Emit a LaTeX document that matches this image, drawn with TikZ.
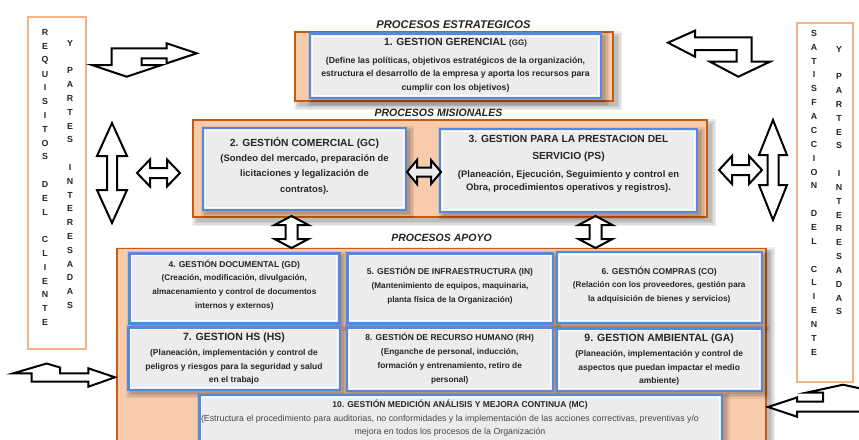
\documentclass[tikz,border=0pt]{standalone}
\usepackage{fontspec}
\setmainfont{Liberation Sans}
\usetikzlibrary{calc}

\definecolor{peach}{RGB}{248,203,173}
\definecolor{rust}{RGB}{197,90,17}
\definecolor{salmon}{RGB}{244,177,131}
\definecolor{procblue}{RGB}{84,138,222}
\definecolor{panel}{RGB}{236,236,236}
\definecolor{ink}{RGB}{38,38,38}
\definecolor{softink}{RGB}{70,70,70}

% soft drop shadow: x1 y1 x2 y2 offset
\newcommand\softshadow[5]{%
  \foreach \d in {5,3.5,2,0.5}{%
    \fill[black,opacity=0.07] ({#1+#5-\d},{#2+#5-\d}) rectangle ({#3+#5+\d},{#4+#5+\d});
  }}

% bevelled process panel: name x1 y1 x2 y2
\newcommand\procbox[5]{%
  \softshadow{#2}{#3}{#4}{#5}{3}
  \node[procframe, minimum width={#4-#2}, minimum height={#5-#3}] (#1) at ({(#2+#4)/2},{(#3+#5)/2}) {};
  \draw[white, line width=1pt] ([xshift=2.5pt,yshift=-2.5pt]#1.north west) rectangle ([xshift=-2.5pt,yshift=2.5pt]#1.south east);
}

% group frame: name x1 y1 x2 y2
\newcommand\groupbox[5]{%
  \softshadow{#2}{#3}{#4}{#5}{4}
  \node[groupframe, minimum width={#4-#2}, minimum height={#5-#3}] (#1) at ({(#2+#4)/2},{(#3+#5)/2}) {};
}

% horizontal double block arrow: cx cy length height shaft headlength fill
\newcommand\hdarrow[7]{%
  \draw[blockarrow, fill=#7]
    ({#1-#3/2},#2) -- ({#1-#3/2+#6},{#2-#4/2}) -- ({#1-#3/2+#6},{#2-#5/2})
    -- ({#1+#3/2-#6},{#2-#5/2}) -- ({#1+#3/2-#6},{#2-#4/2}) -- ({#1+#3/2},#2)
    -- ({#1+#3/2-#6},{#2+#4/2}) -- ({#1+#3/2-#6},{#2+#5/2}) -- ({#1-#3/2+#6},{#2+#5/2})
    -- ({#1-#3/2+#6},{#2+#4/2}) -- cycle;
}
% vertical double block arrow: cx cy length width shaft headlength
\newcommand\vdarrow[6]{%
  \draw[blockarrow]
    (#1,{#2-#3/2}) -- ({#1+#4/2},{#2-#3/2+#6}) -- ({#1+#5/2},{#2-#3/2+#6})
    -- ({#1+#5/2},{#2+#3/2-#6}) -- ({#1+#4/2},{#2+#3/2-#6}) -- (#1,{#2+#3/2})
    -- ({#1-#4/2},{#2+#3/2-#6}) -- ({#1-#5/2},{#2+#3/2-#6}) -- ({#1-#5/2},{#2-#3/2+#6})
    -- ({#1-#4/2},{#2-#3/2+#6}) -- cycle;
}

\begin{document}
\begin{tikzpicture}[x=1pt,y=-1pt,
  procframe/.style={draw=procblue, line width=2.4pt, fill=panel, inner sep=0pt, outer sep=0pt},
  groupframe/.style={draw=rust, line width=1.6pt, fill=peach, inner sep=0pt, outer sep=0pt},
  sidebox/.style={draw=salmon, line width=2.4pt, fill=white, inner sep=0pt, outer sep=0pt},
  blockarrow/.style={draw=black, line width=2pt, line join=miter, fill=white},
  vletter/.style={font=\fontsize{8.8}{9}\selectfont\bfseries, text=ink, inner sep=0pt},
  section/.style={font=\fontsize{10.5}{12}\selectfont\bfseries\itshape, text=ink, inner sep=0pt},
  bigtitle/.style={font=\fontsize{10.3}{17}\selectfont\bfseries, text=ink, inner sep=0pt, align=center},
  smalltitle/.style={font=\fontsize{8.5}{10}\selectfont\bfseries, text=ink, inner sep=0pt},
  body/.style={text=ink, inner sep=0pt, align=center}
]
\useasboundingbox (0,0) rectangle (859,439);
\fill[white] (0,0) rectangle (859,439);
\clip (0,0) rectangle (859,439);

% ---------------- section headings
\node[section, font=\fontsize{11.2}{12}\selectfont\bfseries\itshape] (hEst) at (453.5,25) {PROCESOS ESTRATEGICOS};
\node[section] (hMis) at (438.5,113) {PROCESOS MISIONALES};
\node[section] (hApo) at (441.5,238) {PROCESOS APOYO};

% ---------------- strategic group
\groupbox{gEst}{295}{32}{613}{101}
\procbox{pGG}{310}{33.5}{601}{98}
\node[bigtitle] (tGG) at (455.5,43) {1. GESTION GERENCIAL {\fontsize{8}{9}\selectfont (GG)}};
\node[body, font=\fontsize{8.7}{13.5}\selectfont\bfseries] (bGG) at (455.5,74.5)
  {(Define las políticas, objetivos estratégicos de la organización,\\
   estructura el desarrollo de la empresa y aporta los recursos para\\
   cumplir con los objetivos)};

% ---------------- missional group
\groupbox{gMis}{193}{120}{707}{217}
\procbox{pGC}{203}{128}{406}{210}
\procbox{pPS}{440}{129}{697}{212}
\node[bigtitle] (tGC) at (304.5,143) {2. GESTIÓN COMERCIAL (GC)};
\node[body, font=\fontsize{9.4}{15.5}\selectfont\bfseries] (bGC) at (304.5,174.5)
  {(Sondeo del mercado, preparación de\\ licitaciones y legalización de\\ contratos).};
\node[bigtitle] (tPS) at (568.5,148.5) {3. GESTION PARA LA PRESTACION DEL\\ SERVICIO (PS)};
\node[body, font=\fontsize{9.45}{13.3}\selectfont\bfseries] (bPS) at (568.5,181.5)
  {(Planeación, Ejecución, Seguimiento y control en\\ Obra, procedimientos operativos y registros).};

% ---------------- support group
\groupbox{gApo}{116.7}{248.3}{766}{460}
\procbox{pGD}{129.3}{253.3}{339.3}{323.3}
\procbox{pIN}{347.3}{253.3}{552.7}{323.3}
\procbox{pCO}{556.7}{252}{761.7}{323}
\procbox{pHS}{128.3}{327.3}{340}{390}
\procbox{pRH}{346.7}{327.3}{552.7}{390.7}
\procbox{pGA}{556.7}{328.3}{761.7}{390.7}
\procbox{pMC}{199.3}{395}{721.7}{460}

\node[smalltitle] (tGD) at (234.3,265) {4. GESTIÓN DOCUMENTAL (GD)};
\node[body, font=\fontsize{8.2}{14.2}\selectfont\bfseries] (bGD) at (234.3,292.5)
  {(Creación, modificación, divulgación,\\ almacenamiento y control de documentos\\ internos y externos)};
\node[smalltitle] (tIN) at (450,271.7) {5. GESTIÓN DE INFRAESTRUCTURA (IN)};
\node[body, font=\fontsize{8.2}{13.3}\selectfont\bfseries] (bIN) at (450,293.3)
  {(Mantenimiento de equipos, maquinaria,\\ planta física de la Organización)};
\node[smalltitle] (tCO) at (659.2,271.7) {6. GESTIÓN COMPRAS (CO)};
\node[body, font=\fontsize{8.2}{13.3}\selectfont\bfseries] (bCO) at (659.2,292.3)
  {(Relación con los proveedores, gestión para\\ la adquisición de bienes y servicios)};

\node[bigtitle, font=\fontsize{10.5}{12}\selectfont\bfseries] (tHS) at (234,337.3) {7. GESTION HS (HS)};
\node[body, font=\fontsize{8.5}{13.7}\selectfont\bfseries] (bHS) at (234,367)
  {(Planeación, implementación y control de\\ peligros y riesgos para la seguridad y salud\\ en el trabajo};
\node[smalltitle] (tRH) at (449.7,337.3) {8. GESTIÓN DE RECURSO HUMANO (RH)};
\node[body, font=\fontsize{8.3}{13.8}\selectfont\bfseries] (bRH) at (449.7,366.2)
  {(Enganche de personal, inducción,\\ formación y entrenamiento, retiro de\\ personal)};
\node[bigtitle, font=\fontsize{10.5}{12}\selectfont\bfseries] (tGA) at (659.2,339) {9. GESTION AMBIENTAL (GA)};
\node[body, font=\fontsize{8.5}{13.7}\selectfont\bfseries] (bGA) at (659.2,368)
  {(Planeación, implementación y control de\\ aspectos que puedan impactar el medio\\ ambiente)};

\node[smalltitle] (tMC) at (460,405) {10. GESTIÓN MEDICIÓN ANÁLISIS Y MEJORA CONTINUA (MC)};
\node[body, text=softink, font=\fontsize{8.8}{13}\selectfont] (bMC) at (450,425.8)
  {(Estructura el procedimiento para auditorias, no conformidades y la implementación de las acciones correctivas, preventivas y/o\\
   mejora en todos los procesos de la Organización};

% ---------------- side panels
\node[sidebox, minimum width=58, minimum height=332] (sideL) at (57,183) {};
\node[sidebox, minimum width=56, minimum height=359] (sideR) at (825,202.5) {};
\foreach \c [count=\i] in {R,E,Q,U,I,S,I,T,O,S,{},D,E,L,{},C,L,I,E,N,T,E}
  \node[vletter] (lq\i) at (45,{32.7+(\i-1)*13.8}) {\c};
\foreach \c [count=\i] in {Y,{},P,A,R,T,E,S,{},I,N,T,E,R,E,S,A,D,A,S}
  \node[vletter] (lp\i) at (70,{43.3+(\i-1)*13.8}) {\c};
\foreach \c [count=\i] in {S,A,T,I,S,F,A,C,C,I,O,N,{},D,E,L,{},C,L,I,E,N,T,E}
  \node[vletter] (rs\i) at (814,{33.3+(\i-1)*13.87}) {\c};
\foreach \c [count=\i] in {Y,{},P,A,R,T,E,S,{},I,N,T,E,R,E,S,A,D,A,S}
  \node[vletter] (rp\i) at (839,{49+(\i-1)*13.84}) {\c};

% ---------------- block arrows
\hdarrow{424}{172}{34}{24}{9}{10}{panel}
\hdarrow{158.5}{173}{43}{27}{10}{13}{white}
\hdarrow{740.5}{170}{43}{28}{10}{13}{white}
\vdarrow{112}{173}{100}{30}{10}{33}
\vdarrow{773}{170}{100}{28}{11}{35}
\vdarrow{291.5}{232}{32}{34}{12}{9}
\vdarrow{595.5}{232}{32}{34}{12}{9}

% bent arrow, upper left: heads to the right and down
\draw[blockarrow] (111.7,48.3) -- (166.7,48.3) -- (166.7,43.3) -- (196.7,53.3) -- (166.7,63.3)
  -- (166.7,58.3) -- (141.7,58.3) -- (141.7,65) -- (161.7,65) -- (126.7,76.7) -- (91.7,65)
  -- (111.7,65) -- cycle;
% bent arrow, upper right: heads to the left and down
\draw[blockarrow] (668,42.7) -- (695,30.7) -- (695,37.3) -- (751.7,37.3) -- (751.7,61.7)
  -- (770,61.7) -- (738.3,76.7) -- (710,61.7) -- (736.7,61.7) -- (736.7,50) -- (695,50)
  -- (695,56.7) -- cycle;
% bent arrow, lower left: heads up and to the right
\draw[blockarrow] (31.7,381.7) -- (31.7,373.3) -- (13.3,373.3) -- (46.7,363.5) -- (60,367.5)
  -- (60,373.3) -- (88.3,373.3) -- (88.3,368.3) -- (115,377.3) -- (88.3,386.7) -- (88.3,381.7)
  -- cycle;
% bent arrow, lower right: heads to the left and up
\draw[blockarrow] (768,407) -- (797,397.5) -- (797,401.7) -- (823,401.7) -- (823,392.7)
  -- (806,392.7) -- (843,384.7) -- (880,392.7) -- (862,392.7) -- (862,411.7) -- (797,411.7)
  -- (797,416.7) -- cycle;
\end{tikzpicture}
\end{document}
